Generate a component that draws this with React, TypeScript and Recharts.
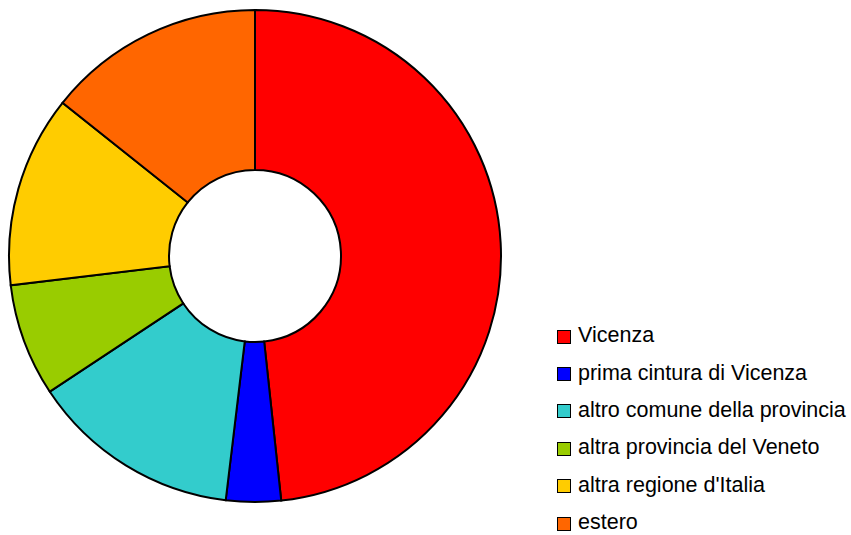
import { PieChart, Pie, Cell, Legend } from 'recharts'

const categories = [
  'Vicenza',
  'prima cintura di Vicenza',
  'altro comune della provincia',
  'altra provincia del Veneto',
  "altra regione d'Italia",
  'estero',
]
const values = [48.3, 3.6, 13.8, 7.4, 12.6, 14.3]
const colors = ['#FF0000', '#0000FF', '#33CCCC', '#99CC00', '#FFCC00', '#FF6600']

const data = categories.map((name, i) => ({ name, value: values[i] }))

function LegendList() {
  return (
    <div style={{ fontFamily: 'Liberation Sans, Arial, sans-serif', fontSize: 21.5, color: '#000' }}>
      {categories.map((c, i) => (
        <div key={c} style={{ display: 'flex', alignItems: 'center', height: 37.4 }}>
          <span
            style={{
              display: 'inline-block',
              width: 12,
              height: 12,
              background: colors[i],
              border: '1.5px solid #000',
              marginRight: 7,
              marginTop: 2,
            }}
          />
          <span>{c}</span>
        </div>
      ))}
    </div>
  )
}

export default function App() {
  return (
    <div style={{ position: 'absolute', left: 0, top: 0, width: 851, height: 535, background: '#fff' }}>
      <PieChart width={851} height={535} margin={{ top: 0, right: 0, bottom: 0, left: 0 }}>
        <Pie
          data={data}
          dataKey="value"
          nameKey="name"
          cx={255}
          cy={256}
          innerRadius={86}
          outerRadius={246}
          startAngle={90}
          endAngle={-270}
          stroke="#000"
          strokeWidth={2}
          isAnimationActive={false}
        >
          {data.map((d, i) => (
            <Cell key={d.name} fill={colors[i]} />
          ))}
        </Pie>
        <Legend
          content={() => <LegendList />}
          wrapperStyle={{ position: 'absolute', left: 557, top: 317, width: 294 }}
        />
      </PieChart>
    </div>
  )
}
